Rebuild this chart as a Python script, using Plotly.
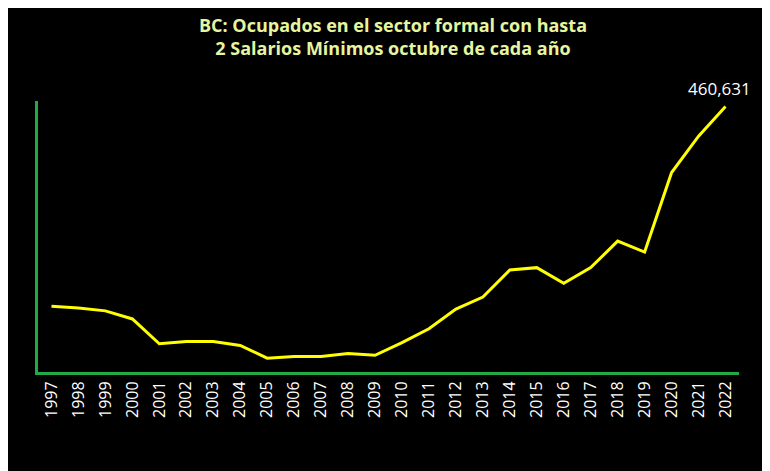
import plotly.graph_objects as pg

years = list(range(1997, 2023))
ocupados = [114000, 111000, 106000, 92000, 49000, 53000, 53000, 46000, 24000, 27000,
            27000, 32000, 29000, 51000, 75000, 109000, 130000, 177000, 181000, 154000,
            181000, 227000, 208000, 346000, 409000, 460631]

fig = pg.Figure()
fig.add_trace(pg.Scatter(x=years, y=ocupados, mode="lines",
                         line=dict(color="#ffff00", width=3), hoverinfo="skip"))

fig.add_annotation(x=years[-1], y=ocupados[-1], text="{:,}".format(ocupados[-1]),
                   showarrow=False, yanchor="bottom", xanchor="center", yshift=4, xshift=-6,
                   font=dict(color="white", size=17, family="Open Sans"))

fig.update_layout(
    width=770, height=471,
    paper_bgcolor="black", plot_bgcolor="black",
    margin=dict(l=30, r=39, t=93, b=107),
    showlegend=False,
    title=dict(text="<b>BC: Ocupados en el sector formal con hasta<br>2 Salarios Mínimos octubre de cada año</b>",
               x=0.5, xanchor="center", y=0.95, yanchor="top",
               font=dict(color="#e6f5a0", size=18, family="Open Sans")),
    xaxis=dict(range=[1996.5, 2022.5], tickmode="array", tickvals=years,
               ticktext=[str(y) for y in years], tickangle=-90,
               tickfont=dict(color="white", size=16, family="Open Sans"),
               showgrid=False, zeroline=False, showline=True,
               linecolor="#22aa44", linewidth=3),
    yaxis=dict(range=[0, 470000], showticklabels=False, showgrid=False, zeroline=False,
               showline=True, linecolor="#22aa44", linewidth=3),
)

fig.write_html("out.html")
